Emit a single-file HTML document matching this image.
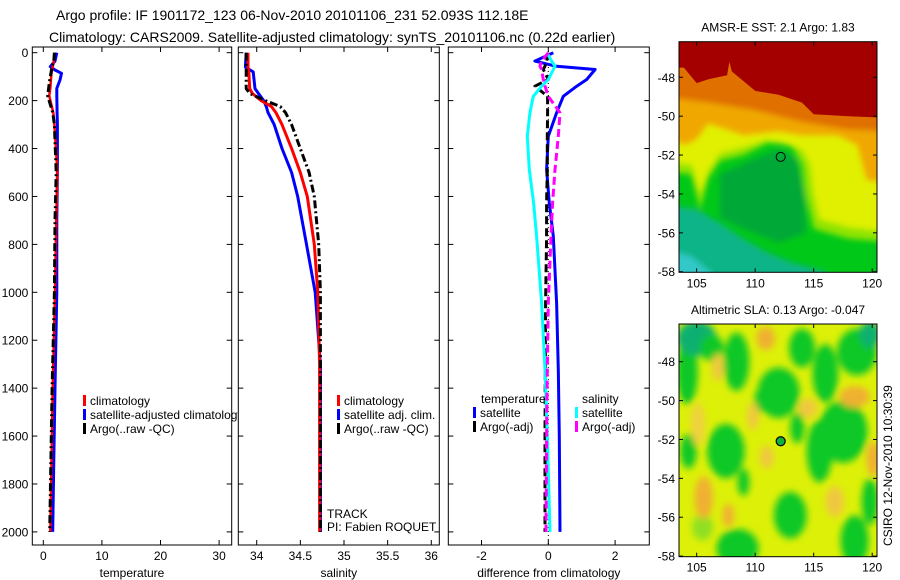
<!DOCTYPE html>
<html><head><meta charset="utf-8">
<style>
html,body{margin:0;padding:0;background:#fff;}
svg{display:block;font-family:"Liberation Sans",sans-serif;}
text{fill:#000;}
</style></head>
<body>
<svg id="fig" width="900" height="580" viewBox="0 0 900 580" xmlns="http://www.w3.org/2000/svg">
<defs>
  <filter id="blur3"><feGaussianBlur stdDeviation="3"/></filter>
  <filter id="blur5"><feGaussianBlur stdDeviation="3.5"/></filter>
  <clipPath id="cm1"><rect x="679" y="41.7" width="198" height="230.6"/></clipPath>
  <clipPath id="cm2"><rect x="679" y="324" width="198" height="232.7"/></clipPath>
  <clipPath id="cp1"><rect x="32.3" y="47" width="199.4" height="498"/></clipPath>
  <clipPath id="cp2"><rect x="238.3" y="47" width="201" height="498"/></clipPath>
  <clipPath id="cp3"><rect x="448.3" y="47" width="201" height="498"/></clipPath>
  <clipPath id="clg1"><rect x="0" y="380" width="240" height="80"/></clipPath>
</defs>
<text x="56" y="20" font-size="14">Argo profile: IF 1901172_123 06-Nov-2010 20101106_231 52.093S 112.18E</text>
<text x="49" y="42" font-size="14">Climatology: CARS2009. Satellite-adjusted climatology: synTS_20101106.nc (0.22d earlier)</text>
<g id="profiles"></g>
<g id="maps"></g>
</svg>
<script>
// ---------- data ----------
const depthT = [0,35,58,72,86,114,149,180,250,300,500,700,1000,1400,1700,2000];
const tempClim = [1.9,1.8,1.6,1.5,1.4,1.3,1.2,1.0,1.7,1.9,2.4,2.2,2.0,1.6,1.4,1.2];
const tempSat  = [2.3,2.0,1.2,2.0,3.1,2.85,2.3,2.3,2.35,2.4,2.4,2.3,2.3,2.0,1.8,1.6];
const tempArgo = [1.9,1.8,1.5,1.4,1.3,1.1,0.9,0.75,1.6,1.9,2.2,2.0,1.9,1.5,1.3,1.1];

const depthS = [0,60,80,150,170,200,225,250,300,400,500,600,800,1000,1300,2000];
const salClim = [33.90,33.90,33.91,33.92,33.95,34.05,34.17,34.22,34.29,34.40,34.50,34.58,34.66,34.70,34.72,34.72];
const salSat  = [33.88,33.87,33.96,33.98,34.02,34.08,34.11,34.13,34.20,34.29,34.40,34.47,34.57,34.67,34.73,34.73];
const salArgo = [33.88,33.88,33.88,33.88,33.92,34.10,34.27,34.33,34.40,34.50,34.60,34.66,34.71,34.73,34.73,34.73];

const depthD = [0,35,56,70,112,140,182,251,349,488,627,766,1044,1322,1600,2000];
const dTempSat  = [0.15,-0.40,0.21,1.40,1.15,0.85,0.45,0.25,0.0,-0.05,0.03,0.15,0.25,0.30,0.33,0.35];
const dTempArgo = [0.0,-0.05,-0.1,-0.15,0.0,-0.4,-0.02,-0.02,-0.03,-0.03,-0.05,-0.05,-0.08,-0.09,-0.1,-0.1];
const dSalSat   = [-0.04,0.1,0.2,0.15,0.0,-0.2,-0.45,-0.55,-0.63,-0.57,-0.44,-0.35,-0.2,-0.1,-0.03,0.05];
const dSalArgo  = [0.0,-0.2,-0.25,-0.2,-0.15,-0.1,0.0,0.35,0.3,0.2,0.13,0.08,0.0,-0.03,-0.05,-0.07];

const depthTicks = [0,200,400,600,800,1000,1200,1400,1600,1800,2000];
const tempTicks = [0,10,20,30];
const salTicks = [34,34.5,35,35.5,36];
const salTickLabels = ["34","34.5","35","35.5","36"];
const diffTicks = [-2,0,2];
const lonTicks = [105,110,115,120];
const latTicks = [48,50,52,54,56,58];

// ---------- helpers ----------
const NS="http://www.w3.org/2000/svg";
function mk(tag,attrs,parent){const e=document.createElementNS(NS,tag);for(const k in attrs)e.setAttribute(k,attrs[k]);parent.appendChild(e);return e;}
function txt(s,attrs,parent){const e=mk('text',attrs,parent);e.textContent=s;return e;}
const yD = d => 52.7 + d*0.2396;
const TOP=47, BOT=545;
const xT = v => 43.3 + v*5.86;
const xS = v => 256.7 + (v-34)*87.3;
const xDf = v => 548.3 + v*33.4;

const P = document.getElementById('profiles');

function panel(name,x0,x1,xf,ticks,labels,title,yLabels,clip){
  const g=mk('g',{},P);
  
  
  const box=mk('rect',{x:x0,y:TOP,width:x1-x0,height:BOT-TOP,fill:'#fff',stroke:'#000','stroke-width':1},g);
  
  
  depthTicks.forEach(d=>{
    const y=yD(d);
    mk('line',{x1:x0,x2:x0+5,y1:y,y2:y,stroke:'#000'},g);
    mk('line',{x1:x1-5,x2:x1,y1:y,y2:y,stroke:'#000'},g);
    if(yLabels){const t=txt(String(d),{x:x0-4,y:y+4.5,'font-size':12,'text-anchor':'end'},g);
      
      }
  });
  ticks.forEach((v,i)=>{
    const x=xf(v);
    mk('line',{x1:x,x2:x,y1:BOT,y2:BOT-5,stroke:'#000'},g);
    mk('line',{x1:x,x2:x,y1:TOP,y2:TOP+5,stroke:'#000'},g);
    const t=txt(labels[i],{x:x,y:BOT+15,'font-size':12,'text-anchor':'middle'},g);
    
    
  });
  const at=txt(title,{x:(x0+x1)/2,y:577,'font-size':12,'text-anchor':'middle'},g);
  
  
  const lines=mk('g',{'clip-path':'url(#'+clip+')'},g);
  return lines;
}
function series(parent,name,depths,vals,xf,color,width,dash){
  const pts=vals.map((v,i)=>xf(v).toFixed(1)+','+yD(depths[i]).toFixed(1)).join(' ');
  const pl=mk('polyline',{points:pts,fill:'none',stroke:color,'stroke-width':width,'stroke-linejoin':'round'},parent);
  if(dash)pl.setAttribute('stroke-dasharray',dash);
  
  
}
function legendItem(parent,name,x,y,color,label){
  const g=mk('g',{},parent);
  
  
  mk('rect',{x:x,y:y-9,width:3,height:11,fill:color},g);
  txt(label,{x:x+7,y:y+1,'font-size':12},g);
}

// panel 1
const l1=panel('temperature-panel',32.3,231.7,xT,tempTicks,tempTicks.map(String),'temperature',true,'cp1');
series(l1,'temp-satellite-line',depthT,tempSat,xT,'#0000ff',3);
series(l1,'temp-climatology-line',depthT,tempClim,xT,'#ff0000',2.5);
series(l1,'temp-argo-line',depthT,tempArgo,xT,'#000',3,'8,3,2,3');
const lg1=mk('g',{'clip-path':'url(#clg1)'},P);
legendItem(lg1,'legend-climatology',83,404,'#f00','climatology');
legendItem(lg1,'legend-satellite-adjusted',83,418,'#00f','satellite-adjusted climatology');
legendItem(lg1,'legend-argo',83,432,'#000','Argo(..raw -QC)');

// panel 2
const l2=panel('salinity-panel',238.3,439.3,xS,salTicks,salTickLabels,'salinity',false,'cp2');
series(l2,'sal-satellite-line',depthS,salSat,xS,'#0000ff',3);
series(l2,'sal-climatology-line',depthS,salClim,xS,'#ff0000',3);
series(l2,'sal-argo-line',depthS,salArgo,xS,'#000',3,'8,3,2,3');
const lg2=mk('g',{},P);
legendItem(lg2,'legend2-climatology',337,404,'#f00','climatology');
legendItem(lg2,'legend2-satellite',337,418,'#00f','satellite adj. clim.');
legendItem(lg2,'legend2-argo',337,432,'#000','Argo(..raw -QC)');
const tr=txt('TRACK',{x:327,y:518,'font-size':12},P);


const pi=txt('PI: Fabien ROQUET',{x:327,y:531,'font-size':12},P);



// panel 3
const l3=panel('difference-panel',448.3,649.3,xDf,diffTicks,diffTicks.map(String),'difference from climatology',false,'cp3');
mk('line',{x1:xDf(0),x2:xDf(0),y1:TOP,y2:BOT,stroke:'#000','stroke-width':1,'stroke-dasharray':'1,3'},l3);
series(l3,'diff-temp-satellite-line',depthD,dTempSat,xDf,'#0000ff',3);
series(l3,'diff-temp-argo-line',depthD,dTempArgo,xDf,'#000',3,'8,4');
series(l3,'diff-sal-satellite-line',depthD,dSalSat,xDf,'#00ffff',3);
series(l3,'diff-sal-argo-line',depthD,dSalArgo,xDf,'#ff00ff',3,'8,4');
const lg3=mk('g',{'clip-path':'url(#cp3)'},P);
const th=txt('temperature',{x:481,y:403,'font-size':12},lg3);


const sh=txt('salinity',{x:582,y:403,'font-size':12},lg3);


legendItem(lg3,'legend3-temp-satellite',473,416,'#00f','satellite');
legendItem(lg3,'legend3-temp-argo',473,430,'#000','Argo(-adj)');
legendItem(lg3,'legend3-sal-satellite',575,416,'#0ff','satellite');
legendItem(lg3,'legend3-sal-argo',575,430,'#f0f','Argo(-adj)');

// ---------- maps ----------
const M=document.getElementById('maps');
function mapAxes(name,top,bot,latTop,title,clip){
  const lon0=103.49,lon1=120.41,x0=679,x1=877;
  const xf=l=>x0+(l-lon0)/(lon1-lon0)*(x1-x0);
  const yf=l=>top+(l-latTop)/(58.03-latTop)*(bot-top);
  const g=mk('g',{},M);
  
  
  const content=mk('g',{'clip-path':'url(#'+clip+')'},g);
  return {g,content,xf,yf,x0,x1,top,bot,finish:()=>{
    const b=mk('rect',{x:x0,y:top,width:x1-x0,height:bot-top,fill:'none',stroke:'#000'},g);
    
    
    lonTicks.forEach(l=>{const x=xf(l);
      mk('line',{x1:x,x2:x,y1:bot,y2:bot-4,stroke:'#000'},g);
      mk('line',{x1:x,x2:x,y1:top,y2:top+4,stroke:'#000'},g);
      const t=txt(String(l),{x:x,y:bot+15,'font-size':12,'text-anchor':'middle'},g);
      
      });
    latTicks.forEach(l=>{const y=yf(l);
      mk('line',{x1:x0,x2:x0+4,y1:y,y2:y,stroke:'#000'},g);
      mk('line',{x1:x1-4,x2:x1,y1:y,y2:y,stroke:'#000'},g);
      const t=txt('-'+l,{x:x0-4,y:y+4.5,'font-size':12,'text-anchor':'end'},g);
      
      });
    const tt=txt(title,{x:(x0+x1)/2,y:top-10,'font-size':12,'text-anchor':'middle'},g);
    
    
  }};
}
function poly(parent,m,pts,fill,name){
  const p=mk('polygon',{points:pts.map(q=>m.xf(q[0]).toFixed(1)+','+m.yf(q[1]).toFixed(1)).join(' '),fill:fill},parent);
  
  
}
function blob(parent,m,lon,lat,rx,ry,fill,name){
  const e=mk('ellipse',{cx:m.xf(lon),cy:m.yf(lat),rx:rx*11.7,ry:ry*19.4,fill:fill},parent);
  
  
}

// map 1: SST
const m1=mapAxes('sst-map',41.7,272.3,46.17,'AMSR-E SST: 2.1 Argo: 1.83','cm1');
mk('rect',{x:670,y:30,width:220,height:250,fill:'#00c818'},m1.content);
const f1=mk('g',{filter:'url(#blur3)'},m1.content);
poly(f1,m1,[[102,54.5],[105,54.8],[107,55.5],[109,56.3],[111,57],[113,57.5],[116,58],[117,59],[102,59]],'#10b488','sst-cool-region');
poly(f1,m1,[[102,56.8],[104.5,57.2],[106.5,58.2],[102,59]],'#30c8c8','sst-coldest-region');
// yellow-green transition band
poly(f1,m1,[[102,50],[122,50],[122,56.5],[118,56.3],[115,55.8],[114.3,54],[114,52.5],[113,51.4],[111,51.4],[109,52],[107,52.3],[106,53.2],[105.3,54.8],[104.5,53],[102,52.8]],'#90e400','sst-lightgreen-band');
poly(f1,m1,[[102,50],[122,50],[122,56],[118,55.7],[115.5,55.3],[115,54],[114.7,52.5],[114,51.7],[111,51.2],[109,51.6],[107,51.9],[106,52.8],[105.3,54],[104.6,52.5],[102,52.3]],'#e0f000','sst-yellow-band');
poly(f1,m1,[[102,45],[122,45],[122,53.5],[119.5,53.3],[118.7,51.5],[117,51.0],[114,51.0],[112,50.8],[109,51.0],[106,50.4],[105,51.2],[104,51.5],[102,51]],'#f0a800','sst-orange-band');
poly(f1,m1,[[102,45],[122,45],[122,50.8],[118,50.7],[114,50.3],[110,49.7],[106,49.3],[102,49]],'#e07000','sst-darkorange-band');
poly(f1,m1,[[107,53],[110,52.2],[112,51.7],[113.5,52.2],[114.2,54],[114.3,56],[112,56.5],[109,55.8],[107,55.2]],'#00a838','sst-darkgreen-region');
poly(m1.content,m1,[[102,45],[122,45],[122,50.1],[118,50.0],[115,49.9],[114,49.3],[112,48.9],[110,48.7],[108,47.7],[107.8,47.2],[107.6,47.9],[106,48.1],[105,48.3],[103.9,47.5],[102,47.5]],'#a50000','sst-warm-region');
const c1=mk('circle',{cx:m1.xf(112.18),cy:m1.yf(52.093),r:4.5,fill:'none',stroke:'#000','stroke-width':1},m1.g);


m1.finish();

// map 2: SLA
const m2=mapAxes('sla-map',324,556.7,46.06,'Altimetric SLA: 0.13 Argo: -0.047','cm2');
mk('rect',{x:670,y:310,width:220,height:260,fill:'#dcf008'},m2.content);
const f2=mk('g',{filter:'url(#blur5)'},m2.content);
const G='#10c828',O='#f0b030',T='#10b070';
[[104.2,48.5,0.9,1.7,G],[105,46.8,1.7,0.9,T],[106.3,47.3,1,0.7,G],[108.4,48,1.1,1.5,G],[112,49.6,1.8,1.3,G],[114,47.3,1.1,1,G],[116,48.6,1.1,1.5,G],[118.7,47.5,1.7,1.2,G],[119.8,46.6,0.9,0.7,T],[117.5,51.6,2.1,1.6,G],[115.5,52.6,1.1,1.6,G],[107.5,52.6,1.6,1.4,G],[104.3,52.6,0.7,0.9,G],[113,55.9,1.4,1.2,G],[108.5,57.6,1.8,1,G],[118.5,57.2,1.2,1.3,G],[109,54.2,0.5,0.7,G],[113.6,51.4,0.6,0.8,G],[119.8,55.2,0.7,1.2,G],[110.5,50,0.6,0.6,G],[105.5,56.5,0.9,0.7,'#90e020']]
.forEach(b=>blob(f2,m2,b[0],b[1],b[2],b[3],b[4],'sla-low-anomaly'));
[[118.5,49.8,1.3,0.55,O],[120.1,53,0.6,0.9,O],[105.6,55,0.8,1.1,O],[107.7,55.9,0.5,0.6,O],[110.9,46.8,0.8,0.6,O],[105.1,51.2,0.6,1.1,'#f0d040'],[111,52.9,0.6,0.6,'#f0c840'],[116.8,55.2,0.8,0.8,'#f0c840'],[106.8,48.3,0.5,0.7,'#f0c840'],[109.8,50.8,0.5,0.7,'#f0c840'],[114.5,50.4,0.8,0.5,'#f0c840']]
.forEach(b=>blob(f2,m2,b[0],b[1],b[2],b[3],b[4],'sla-high-anomaly'));
const c2=mk('circle',{cx:m2.xf(112.18),cy:m2.yf(52.093),r:4.5,fill:'#10b040',stroke:'#000','stroke-width':1.2},m2.g);


m2.finish();
const cs=txt('CSIRO 12-Nov-2010 10:30:39',{x:0,y:0,'font-size':12,transform:'translate(892,546) rotate(-90)'},M);


</script>
</body></html>
